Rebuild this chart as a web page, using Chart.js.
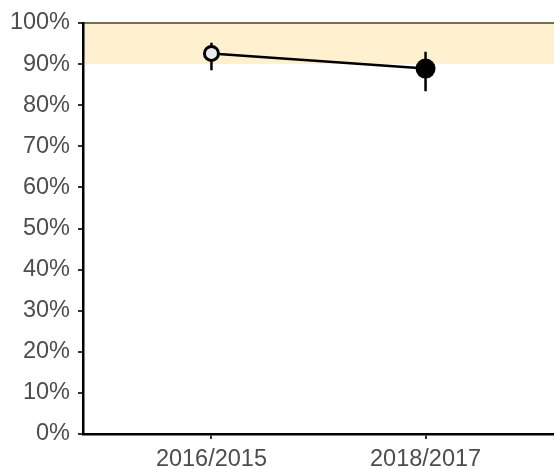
<!DOCTYPE html>
<html>
<head>
<meta charset="utf-8">
<script src="https://cdn.jsdelivr.net/npm/chart.js@4/dist/chart.umd.min.js"></script>
<style>
  html, body { margin: 0; padding: 0; background: #fff; overflow: hidden; }
  canvas { display: block; }
</style>
</head>
<body>
<canvas id="chart" width="554" height="469"></canvas>
<script>
// data
const periods = ['2016/2015', '2018/2017'];
const values = [92.6, 88.9];
const lower = [88.5, 83.4];
const upper = [95.2, 93.0];
const pointFills = ['#ebebeb', '#000000'];
const pointSizes = [7, 8.5];
const yTicks = [0, 10, 20, 30, 40, 50, 60, 70, 80, 90, 100];
const band = [90, 100];

const textColor = '#4d4d4d';
const font = { family: 'Liberation Sans, Arial, sans-serif', size: 23.5 };

// shaded target band + top line (drawn under the axes)
const bandPlugin = {
  id: 'band',
  beforeDraw(chart) {
    const { ctx, chartArea, scales } = chart;
    const y0 = scales.y.getPixelForValue(band[1]);
    const y1 = scales.y.getPixelForValue(band[0]);
    ctx.save();
    ctx.fillStyle = '#fff0cf';
    ctx.fillRect(chartArea.left, y0, chartArea.right - chartArea.left, y1 - y0);
    ctx.strokeStyle = '#7d6c52';
    ctx.lineWidth = 2;
    ctx.beginPath();
    ctx.moveTo(chartArea.left, y0);
    ctx.lineTo(chartArea.right, y0);
    ctx.stroke();
    ctx.restore();
  }
};

// vertical error bars
const errorPlugin = {
  id: 'errors',
  beforeDatasetsDraw(chart) {
    const { ctx, scales } = chart;
    ctx.save();
    ctx.strokeStyle = '#000';
    ctx.lineWidth = 2.5;
    periods.forEach((p, i) => {
      const x = scales.x.getPixelForValue(i + 1);
      ctx.beginPath();
      ctx.moveTo(x, scales.y.getPixelForValue(lower[i]));
      ctx.lineTo(x, scales.y.getPixelForValue(upper[i]));
      ctx.stroke();
    });
    ctx.restore();
  }
};

new Chart(document.getElementById('chart').getContext('2d'), {
  type: 'line',
  data: {
    datasets: [{
      data: values.map((v, i) => ({ x: i + 1, y: v })),
      borderColor: '#000', borderWidth: 2.5,
      pointRadius: pointSizes, pointBackgroundColor: pointFills,
      pointBorderColor: '#000', pointBorderWidth: 3,
      tension: 0
    }]
  },
  plugins: [bandPlugin, errorPlugin],
  options: {
    responsive: false,
    animation: false,
    layout: { autoPadding: false, padding: { top: 23, right: 0, left: 0, bottom: 0 } },
    plugins: { legend: { display: false }, tooltip: { enabled: false } },
    scales: {
      x: {
        type: 'linear', min: 0.4, max: 2.6,
        afterBuildTicks(axis) { axis.ticks = periods.map((p, i) => ({ value: i + 1 })); },
        afterFit(axis) { axis.height = 35; axis.paddingRight = 0; axis.paddingLeft = 0; },
        ticks: {
          callback: (v) => periods[v - 1],
          color: textColor, font: font, padding: 6, maxRotation: 0
        },
        grid: { drawOnChartArea: false, drawTicks: true, tickLength: 5, color: '#333', lineWidth: 2 },
        border: { display: true, color: '#000', width: 2.5 }
      },
      y: {
        min: 0, max: 100,
        afterBuildTicks(axis) { axis.ticks = yTicks.map(v => ({ value: v })); },
        afterFit(axis) { axis.width = 83; },
        ticks: {
          callback: (v) => v + '%',
          color: textColor, font: font, padding: 8
        },
        grid: { drawOnChartArea: false, drawTicks: true, tickLength: 5, color: '#333', lineWidth: 2 },
        border: { display: true, color: '#000', width: 2.5 }
      }
    }
  }
});
</script>
</body>
</html>
